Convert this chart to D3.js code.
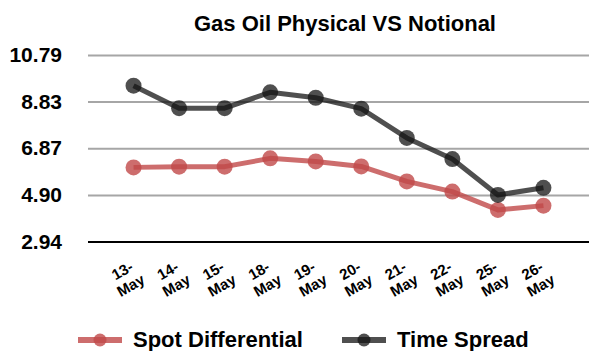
<!DOCTYPE html>
<html><head><meta charset="utf-8">
<script src="https://cdn.jsdelivr.net/npm/d3@7"></script>
<style>
html,body{margin:0;padding:0;background:#fff;}
svg{display:block;font-family:"Liberation Sans",Arial,Helvetica,sans-serif;}
</style></head><body>
<script>
const categories = ["13-May","14-May","15-May","18-May","19-May","20-May","21-May","22-May","25-May","26-May"];
const spotDifferential = [6.06, 6.09, 6.09, 6.44, 6.31, 6.10, 5.47, 5.04, 4.27, 4.45];
const timeSpread = [9.50, 8.55, 8.55, 9.22, 8.99, 8.53, 7.30, 6.41, 4.90, 5.20];
const yTicks = [2.94, 4.90, 6.87, 8.83, 10.79];
const seriesNames = ["Spot Differential", "Time Spread"];
const title = "Gas Oil Physical VS Notional";

const W = 589, H = 351;
const svg = d3.select("body").append("svg").attr("width", W).attr("height", H);

const x = d3.scalePoint().domain(categories).range([88, 589]).padding(1);
const y = d3.scaleLinear().domain([2.94, 10.79]).range([241.5, 55]);

// title
svg.append("text").attr("x", 345).attr("y", 31).attr("text-anchor", "middle")
  .attr("font-size", 22).attr("font-weight", "bold").attr("fill", "#000").text(title);

// grid + y labels
const yAxis = svg.append("g").attr("transform", "translate(88,0)")
  .call(d3.axisLeft(y).tickValues(yTicks).tickSize(-501).tickPadding(26).tickFormat(d3.format(".2f")));
yAxis.select(".domain").remove();
yAxis.selectAll(".tick line").attr("stroke", d => d === 2.94 ? "#000" : "#a6a6a6").attr("stroke-width", 2);
yAxis.selectAll(".tick text").attr("font-size", 21).attr("font-weight", "bold").attr("fill", "#000")
  .attr("font-family", "Liberation Sans, Arial, sans-serif");

// x labels
const xl = svg.append("g");
categories.forEach(c => {
  const parts = c.split("-");
  const g = xl.append("g").attr("transform", `translate(${x(c) - 7},278) rotate(-30)`);
  const t = g.append("text").attr("text-anchor", "middle").attr("font-size", 15).attr("font-weight", "bold").attr("fill", "#000");
  t.append("tspan").attr("x", 0).attr("y", -8.5).attr("dy", "0.35em").text(parts[0] + "-");
  t.append("tspan").attr("x", 0).attr("y", 8.5).attr("dy", "0.35em").text(parts[1]);
});

const series = [
  {name: seriesNames[0], values: spotDifferential, color: "rgba(192,72,72,0.8)"},
  {name: seriesNames[1], values: timeSpread, color: "rgba(20,20,20,0.75)"}
];
const line = d3.line().x((d, i) => x(categories[i])).y(d => y(d));
series.forEach(s => {
  svg.append("path").datum(s.values).attr("d", line).attr("fill", "none")
    .attr("stroke", s.color).attr("stroke-width", 5).attr("stroke-linejoin", "round");
  svg.append("g").selectAll("circle").data(s.values).join("circle")
    .attr("cx", (d, i) => x(categories[i])).attr("cy", d => y(d)).attr("r", 8).attr("fill", s.color);
});

// legend
const leg = [{x0: 78, tx: 133}, {x0: 342, tx: 397}];
series.forEach((s, i) => {
  const L = leg[i];
  svg.append("line").attr("x1", L.x0).attr("x2", L.x0 + 44).attr("y1", 340).attr("y2", 340)
    .attr("stroke", s.color).attr("stroke-width", 6);
  svg.append("circle").attr("cx", L.x0 + 22).attr("cy", 340).attr("r", 6.5).attr("fill", s.color);
  svg.append("text").attr("x", L.tx).attr("y", 347).attr("font-size", 22).attr("font-weight", "bold")
    .attr("fill", "#000").text(s.name);
});
</script>
</body></html>
